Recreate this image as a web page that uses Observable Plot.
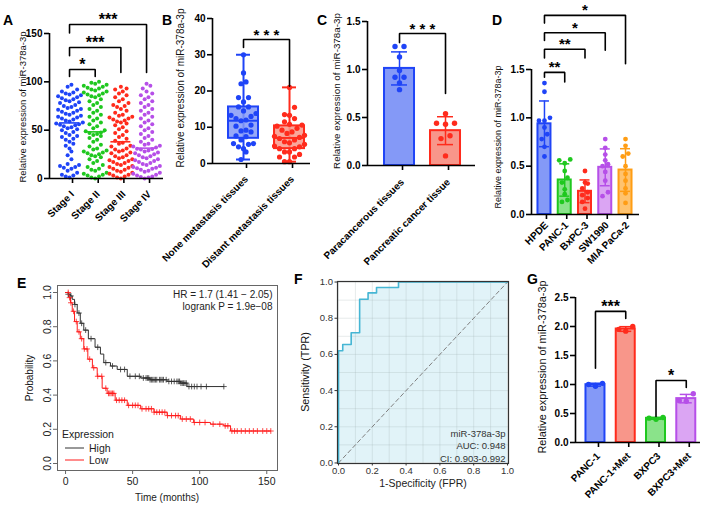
<!DOCTYPE html>
<html><head><meta charset="utf-8">
<script src="https://cdn.jsdelivr.net/npm/d3@7"></script>
<script src="https://cdn.jsdelivr.net/npm/@observablehq/plot@0.6"></script>
<style>
body{margin:0;background:#fff;}
#fig{position:relative;width:709px;height:506px;overflow:hidden;background:#fff;}
</style></head><body><div id="fig"></div>
<script>
// ---------------- DATA ----------------
// A: miR-378a-3p expression by stage
const stagesA = ["Stage I", "Stage II", "Stage III", "Stage IV"];
const stageI = [1,2,3,4,6,8,10,11,12,13,14,15,20,24,28,31,34,36,38,40,41,43,44,45,47,48,50,51,52,53,54,55,55.5,56,57,58,59,60,61,62,63,64,65,66,67,68,69,70,71,72,73,74,75,76,78,79,80,81,82,83,84,85,86,87,88,89,90,92,95,97];
const stageII = [0,1,2,3,4,5,6,8,9,10,12,14,16,18,20,22,23,24,25,26,27,28,29,30,31,33,35,38,40,42,44,45,46,47,47.5,49,50,52,54,56,58,60,62,64,66,68,70,72,74,76,78,80,82,84,85,86,87,88,89,90,91,92,93,94,95,96,97,98,99,100];
const stageIII = [0,1,2,3,4,5,6,7,8,9,10,11,12,13,14,15,16,17,18,19,20,21,22,23,24,26,27,28,29,30,31,33,34,36,37,39,41,43,45,47,49,51,53,55,57,58,59,60,61,62,63,64,65,66,68,70,72,74,75,76,78,80,82,84,86,88,90,92,93,95];
const stageIV = [0,1,1.5,2,3,4,5,6,7,8,9,10,10.5,11,12,13,14,15,16,17,18,19,20,21,22,23,24,25,26,27,28,29,30,30.5,30.8,32,33,34,35,36,38,40,42,44,46,48,50,52,54,56,58,60,62,64,66,68,70,72,74,76,78,80,82,84,86,88,90,93,96,98];
// B: metastasis
const groupsB = ["None metastasis tissues", "Distant metastasis tissues"];
const noneMet = [30,25,22.5,22,18.2,18.2,17,15.6,15.6,14.5,13.8,13.3,13,12.4,12,11.8,10.6,10.3,9.2,9,8.7,7.6,7.4,6.5,5.5,5.5,5.3,4.6,4.1,3.2,1.1];
const distantMet = [21,15.5,13.5,13.3,12.4,11.5,10.8,10.6,10.3,9.7,9.2,8.7,8.3,7.8,7.5,7.2,6.9,6.5,6,5.7,5.3,4.8,4.6,4.1,4.1,3.2,3.2,2.5,1.8,1.8,0.5,0.5];
// C: tissues
const groupsC = ["Paracancerous tissues", "Pancreatic cancer tissue"];
const paraC = [1.24,1.24,1.13,0.99,0.92,0.92,0.86,0.79];
const cancerC = [0.54,0.44,0.44,0.43,0.31,0.28,0.10];
// D: cell lines
const cellsD = ["HPDE", "PANC-1", "BxPC-3", "SW1990", "MIA PaCa-2"];
const hpde = [1.36,1.27,1.00,0.97,0.97,0.90,0.83,0.78,0.70,0.60];
const panc1 = [0.57,0.56,0.53,0.45,0.38,0.33,0.26,0.21,0.15,0.13];
const bxpc3 = [0.45,0.33,0.32,0.27,0.23,0.20,0.17,0.13,0.06];
const sw1990 = [0.78,0.69,0.62,0.56,0.52,0.50,0.44,0.35,0.23,0.19];
const miapaca = [0.78,0.71,0.63,0.60,0.50,0.42,0.35,0.27,0.22,0.12];
// E: Kaplan-Meier
const kmHighTime = [0,2,3.7,5,6.7,8.7,11,13.6,17,22,26,28.5,33.5,38.5,46,56,63,75.7,85.6,90.6,118];
const kmHighSurv = [1.0,0.99,0.98,0.96,0.93,0.88,0.82,0.78,0.73,0.68,0.64,0.59,0.57,0.55,0.51,0.50,0.49,0.48,0.47,0.45,0.45];
const kmLowTime = [0,2.5,3.7,5,6.7,8.7,11,13.6,16.6,20,23.6,27.3,31,37,46,56,66,75.7,85.6,95.5,108,118,123,153];
const kmLowSurv = [1.0,0.97,0.94,0.89,0.83,0.77,0.73,0.67,0.61,0.56,0.51,0.44,0.41,0.37,0.34,0.32,0.30,0.28,0.26,0.24,0.23,0.22,0.19,0.19];
const censorHigh = [2,4,7,10,12,15,19,24,30,35,41,44,48,52,55,58,60,61,62,63,64,65,66,67,68,70,71,72,73,75,77,79,81,83,84,85,86,87,88,89,90,92,94,96,98,101,105,118];
const censorLow = [2,3,4,6,8,10,12,14,16,18,21,24,27,30,32,33,34,35,36,38,40,42,44,47,50,52,54,57,60,62,64,66,68,70,72,74,76,79,82,84,87,90,93,96,100,104,110,115,119,121,124,126,128,131,134,137,140,143,147,150,153];
const kmGroups = ["High", "Low"];
const kmStats = "HR = 1.7 (1.41 \u2212 2.05)\nlogrank P = 1.9e\u221208";
// F: ROC
const rocFpr = [0,0,0.025,0.075,0.125,0.175,0.225,0.355,1];
const rocTpr = [0,0.62,0.655,0.72,0.905,0.94,0.97,1,1];
const chance = [0,1];
const rocStats = "miR-378a-3p\nAUC: 0.948\nCI: 0.903-0.992";
// G: metastasis-induced
const cellsG = ["PANC-1", "PANC-1+Met", "BXPC3", "BXPC3+Met"];
const gPanc = [0.97,1.02,1.00];
const gPancMet = [2.00,1.92,1.95];
const gBx = [0.40,0.42,0.43];
const gBxMet = [0.84,0.71,0.72];
const yTitle = "Relative expression of miR-378a-3p";

// ---------------- STYLE ----------------
const FONT = "'Liberation Sans', Arial, Helvetica, sans-serif";
const C = {
  blue:   {dot:"#1f44f7", fill:"#8499f7", line:"#1f44f7"},
  red:    {dot:"#ff2b1c", fill:"#f8968a", line:"#ff2b1c"},
  green:  {dot:"#1fc81f", fill:"#8ae38a", line:"#1fc81f"},
  purple: {dot:"#b64fe8", fill:"#dba5f3", line:"#b64fe8"},
  orange: {dot:"#ff9d14", fill:"#ffc36e", line:"#ff9d14"}
};
const fig = document.getElementById("fig");
function place(el, left, top) { el.style.position = "absolute"; el.style.left = left + "px"; el.style.top = top + "px"; fig.appendChild(el); }

function swarm(values, bin) {
  const s = values.slice().sort((a, b) => a - b);
  const out = []; let cl = [];
  const flush = () => {
    const n = cl.length;
    const slots = d3.range(n).map(j => j - (n - 1) / 2).sort((a, b) => Math.abs(a) - Math.abs(b) || a - b);
    cl.forEach((v, j) => out.push({v, slot: slots[j]}));
    cl = [];
  };
  for (const v of s) { if (cl.length && v - cl[0] >= bin) flush(); cl.push(v); }
  flush();
  return out;
}
function brackets(sig, fontSize, dy) {
  const pts = sig.flatMap((s, k) => [{k, x: s.a, y: s.la}, {k, x: s.a, y: s.y}, {k, x: s.b, y: s.y}, {k, x: s.b, y: s.lb}]);
  return [
    Plot.line(pts, {x: "x", y: "y", z: "k", stroke: "#000", strokeWidth: 1.6, strokeLinejoin: "miter", curve: "linear"}),
    Plot.text(sig, {x: d => (d.a + d.b) / 2, y: "y", text: "text", fontSize, fontWeight: "bold", dy, lineAnchor: "middle"})
  ];
}
function gpPanel(cfg) {
  const {left, top, width, height, ml, mr, mt, mb, xDomain, yDomain, yTicks, yFormat, labels, marks, pad, ldx} = cfg;
  const unit = (width - ml - mr) / (xDomain[1] - xDomain[0]);
  const svg = Plot.plot({
    width, height, marginLeft: ml, marginRight: mr, marginTop: mt, marginBottom: mb,
    x: {domain: xDomain}, y: {domain: yDomain}, color: {type: "identity"},
    style: {background: "transparent", fontFamily: FONT, fontSize: "10px", fontWeight: "bold", color: "#000", overflow: "visible"},
    marks: [
      ...marks(unit),
      Plot.ruleY([yDomain[0]], {strokeWidth: 1.6}),
      Plot.ruleX([xDomain[0]], {strokeWidth: 1.6}),
      Plot.axisY({ticks: yTicks, tickFormat: yFormat, tickSize: 5, tickPadding: 2, strokeWidth: 1.6, fontSize: 10, fontWeight: "bold", label: null}),
      Plot.axisX({ticks: d3.range(labels.length), tickFormat: i => labels[i], tickRotate: -45, tickSize: 5, tickPadding: pad, dx: ldx, strokeWidth: 1.6, fontSize: 10, fontWeight: "bold", label: null})
    ]
  });
  place(svg, left, top);
}
function barMarks(series, colors, unit, o) {
  const rows = series.map((vals, i) => ({i, mean: d3.mean(vals), sd: d3.deviation(vals), fill: colors[i].fill, line: colors[i].line}));
  const dots = series.flatMap((vals, i) => swarm(vals, o.bin).map(d => ({x: i + d.slot * o.step / unit, v: d.v, c: colors[i].dot})));
  const hb = o.halfBar / unit, hc = o.cap / unit;
  return [
    Plot.rect(rows, {x1: d => d.i - hb, x2: d => d.i + hb, y1: 0, y2: "mean", fill: "fill", stroke: "line", strokeWidth: 2}),
    Plot.ruleX(rows, {x: "i", y1: d => d.mean - d.sd, y2: d => d.mean + d.sd, stroke: "line", strokeWidth: 1.5}),
    Plot.ruleY(rows, {y: d => d.mean + d.sd, x1: d => d.i - hc, x2: d => d.i + hc, stroke: "line", strokeWidth: 1.5}),
    Plot.ruleY(rows, {y: d => d.mean - d.sd, x1: d => d.i - hc, x2: d => d.i + hc, stroke: "line", strokeWidth: 1.5}),
    Plot.dot(dots, {x: "x", y: "v", r: o.r, fill: "c"})
  ];
}

// ---------------- PANEL A ----------------
gpPanel({left: 0, top: 0, width: 170, height: 250, ml: 49, mr: 7, mt: 33, mb: 72, pad: 9, ldx: 3,
  xDomain: [-0.78, 3.66], yDomain: [0, 150], yTicks: [0, 50, 100, 150], yFormat: "d", labels: stagesA,
  marks: unit => {
    const series = [stageI, stageII, stageIII, stageIV];
    const cols = [C.blue, C.green, C.red, C.purple];
    const dots = series.flatMap((vals, i) => swarm(vals, 7).map(d => ({x: i + d.slot * 3.8 / unit, v: d.v, c: cols[i].dot})));
    const meds = series.map((vals, i) => ({i, m: d3.median(vals), c: cols[i].dot}));
    const sig = [
      {a: 0, b: 1, y: 112.7, la: 105.5, lb: 105.5, text: "*"},
      {a: 0, b: 2, y: 135.5, la: 127, lb: 109.6, text: "***"},
      {a: 0, b: 3, y: 159.3, la: 150.5, lb: 109.6, text: "***"}
    ];
    return [
      Plot.dot(dots, {x: "x", y: "v", r: 2, fill: "c"}),
      Plot.ruleY(meds, {y: "m", x1: d => d.i - 10 / unit, x2: d => d.i + 10 / unit, stroke: "c", strokeWidth: 1.6}),
      ...brackets(sig, 16, -5)
    ];
  }});

// ---------------- PANEL B ----------------
gpPanel({left: 170, top: 0, width: 170, height: 250, ml: 42, mr: 30, mt: 18, mb: 87, pad: 9, ldx: 3,
  xDomain: [-0.674, 1.456], yDomain: [0, 40], yTicks: [0, 10, 20, 30, 40], yFormat: "d", labels: groupsB,
  marks: unit => {
    const series = [noneMet, distantMet];
    const cols = [C.blue, C.red];
    const rows = series.map((vals, i) => {
      const s = vals.slice().sort(d3.ascending);
      return {i, q1: d3.quantile(s, 0.25), q2: d3.quantile(s, 0.5), q3: d3.quantile(s, 0.75), lo: s[0], hi: s[s.length - 1], fill: cols[i].fill, line: cols[i].line};
    });
    const dots = series.flatMap((vals, i) => swarm(vals, 2.4).map(d => ({x: i + d.slot * 5 / unit, v: d.v, c: cols[i].dot})));
    const hb = 15 / unit, hc = 7 / unit;
    const sig = [{a: 0, b: 1, y: 34.2, la: 32, lb: 21.3, text: "* * *"}];
    return [
      Plot.ruleX(rows, {x: "i", y1: "lo", y2: "hi", stroke: "line", strokeWidth: 2}),
      Plot.ruleY(rows, {y: "lo", x1: d => d.i - hc, x2: d => d.i + hc, stroke: "line", strokeWidth: 2}),
      Plot.ruleY(rows, {y: "hi", x1: d => d.i - hc, x2: d => d.i + hc, stroke: "line", strokeWidth: 2}),
      Plot.rect(rows, {x1: d => d.i - hb, x2: d => d.i + hb, y1: "q1", y2: "q3", fill: "fill", fillOpacity: 0.85, stroke: "line", strokeWidth: 2}),
      Plot.ruleY(rows, {y: "q2", x1: d => d.i - hb, x2: d => d.i + hb, stroke: "line", strokeWidth: 2}),
      Plot.dot(dots, {x: "x", y: "v", r: 2.6, fill: "c"}),
      ...brackets(sig, 15, -4)
    ];
  }});

// ---------------- PANEL C ----------------
gpPanel({left: 330, top: 0, width: 160, height: 250, ml: 37, mr: 15, mt: 21, mb: 85, pad: 10, ldx: 3,
  xDomain: [-0.696, 1.652], yDomain: [0, 1.5], yTicks: [0, 0.5, 1, 1.5], yFormat: ".1f", labels: groupsC,
  marks: unit => [
    ...barMarks([paraC, cancerC], [C.blue, C.red], unit, {bin: 0.05, step: 9, halfBar: 15, cap: 8, r: 2.7}),
    ...brackets([{a: 0, b: 1, y: 1.375, la: 1.28, lb: 0.75, text: "* * *"}], 15, -4)
  ]});

// ---------------- PANEL D ----------------
gpPanel({left: 500, top: 0, width: 209, height: 250, ml: 31, mr: 70, mt: 69, mb: 36, pad: 4, ldx: 2,
  xDomain: [-0.64, 4.69], yDomain: [0, 1.5], yTicks: [0, 0.5, 1, 1.5], yFormat: ".1f", labels: cellsD,
  marks: unit => [
    ...barMarks([hpde, panc1, bxpc3, sw1990, miapaca], [C.blue, C.green, C.red, C.purple, C.orange], unit, {bin: 0.05, step: 5.5, halfBar: 6.5, cap: 5, r: 2.4}),
    ...brackets([
      {a: 0, b: 1, y: 1.47, la: 1.42, lb: 1.37, text: "**"},
      {a: 0, b: 2, y: 1.71, la: 1.62, lb: 1.62, text: "**"},
      {a: 0, b: 3, y: 1.88, la: 1.80, lb: 1.70, text: "*"},
      {a: 0, b: 4, y: 2.06, la: 1.98, lb: 1.56, text: "*"}
    ], 15, -5)
  ]});

// ---------------- PANEL G ----------------
gpPanel({left: 530, top: 250, width: 179, height: 256, ml: 45, mr: 9, mt: 47, mb: 64, pad: 7, ldx: 3,
  xDomain: [-0.66, 3.47], yDomain: [0, 2.5], yTicks: [0, 0.5, 1, 1.5, 2, 2.5], yFormat: ".1f", labels: cellsG,
  marks: unit => [
    ...barMarks([gPanc, gPancMet, gBx, gBxMet], [C.blue, C.red, C.green, C.purple], unit, {bin: 0.2, step: 7, halfBar: 9.5, cap: 6, r: 2.7}),
    ...brackets([
      {a: 0, b: 1, y: 2.26, la: 1.28, lb: 2.14, text: "***"},
      {a: 2, b: 3, y: 1.07, la: 0.45, lb: 0.95, text: "*"}
    ], 16, -5)
  ]});

// ---------------- PANEL E ----------------
{
  const stepAt = (times, surv, t) => surv[Math.max(0, d3.bisectRight(times, t) - 1)];
  const high = kmHighTime.map((t, k) => ({t, s: kmHighSurv[k]}));
  const low = kmLowTime.map((t, k) => ({t, s: kmLowSurv[k]}));
  const cHigh = censorHigh.map(t => ({t, s: stepAt(kmHighTime, kmHighSurv, t)}));
  const cLow = censorLow.map(t => ({t, s: stepAt(kmLowTime, kmLowSurv, t)}));
  const svg = Plot.plot({
    width: 290, height: 256, marginLeft: 57, marginTop: 35, marginRight: 13, marginBottom: 36,
    x: {domain: [-6, 158]}, y: {domain: [-0.041, 1.041]},
    style: {background: "transparent", fontFamily: FONT, fontSize: "10px", color: "#222", overflow: "visible"},
    marks: [
      Plot.line(high, {x: "t", y: "s", curve: "step-after", stroke: "#333", strokeWidth: 1}),
      Plot.line(low, {x: "t", y: "s", curve: "step-after", stroke: "#ff1a1a", strokeWidth: 1}),
      Plot.dot(cHigh, {x: "t", y: "s", symbol: "plus", r: 2, stroke: "#333", strokeWidth: 0.8}),
      Plot.dot(cLow, {x: "t", y: "s", symbol: "plus", r: 2, stroke: "#ff1a1a", strokeWidth: 0.8}),
      Plot.frame({stroke: "#666"}),
      Plot.axisX({ticks: [0, 50, 100, 150], tickSize: 4, tickPadding: 3, fontSize: 10.5, label: null, stroke: "#666"}),
      Plot.axisY({ticks: [0, 0.2, 0.4, 0.6, 0.8, 1], tickFormat: ".1f", tickRotate: -90, tickSize: 4, tickPadding: 3, fontSize: 10.5, label: null, stroke: "#666"}),
      Plot.text([kmStats], {frameAnchor: "top-right", textAnchor: "end", lineAnchor: "top", dx: -5, dy: 4, fontSize: 10, lineHeight: 1.2})
    ]
  });
  place(svg, 0, 250);
}

// ---------------- PANEL F ----------------
{
  const roc = rocFpr.map((f, k) => ({f, t: rocTpr[k]}));
  const grid = d3.range(0, 11).map(k => k / 10);
  const svg = Plot.plot({
    width: 225, height: 256, marginLeft: 47, marginTop: 31, marginRight: 7, marginBottom: 43,
    x: {domain: [-0.006, 1.006]}, y: {domain: [-0.003, 1.003]},
    style: {background: "transparent", fontFamily: FONT, fontSize: "10px", color: "#333", overflow: "visible"},
    marks: [
      Plot.areaY(roc, {x: "f", y: "t", curve: "step-after", fill: "#e1f3f8"}),
      Plot.gridX(grid, {stroke: "#9aa", strokeOpacity: 0.3, strokeWidth: 0.8}),
      Plot.gridY(grid, {stroke: "#9aa", strokeOpacity: 0.3, strokeWidth: 0.8}),
      Plot.line(chance, {x: d => d, y: d => d, stroke: "#808080", strokeDasharray: "4,3", strokeWidth: 1}),
      Plot.line(roc, {x: "f", y: "t", curve: "step-after", stroke: "#46b6d4", strokeWidth: 1.6}),
      Plot.frame({stroke: "#333", strokeWidth: 1.2}),
      Plot.axisX({ticks: [0, 0.2, 0.4, 0.6, 0.8, 1], tickFormat: ".1f", tickSize: 2.5, tickPadding: 1, fontSize: 9.5, label: null}),
      Plot.axisY({ticks: [0, 0.2, 0.4, 0.6, 0.8, 1], tickFormat: ".1f", tickSize: 2.5, tickPadding: 2, fontSize: 9.5, label: null}),
      Plot.text([rocStats], {frameAnchor: "bottom-right", textAnchor: "end", lineAnchor: "bottom", dx: -3, dy: -2, fontSize: 9.5, lineHeight: 1.3, fill: "#333"})
    ]
  });
  place(svg, 290, 250);
}

// ---------------- OVERLAY TEXT ----------------
{
  const ov = d3.create("svg").attr("width", 709).attr("height", 506)
    .style("position", "absolute").style("left", "0px").style("top", "0px").style("pointer-events", "none")
    .attr("font-family", FONT);
  const letters = [["A", 3, 25], ["B", 162, 25], ["C", 317, 25], ["D", 492, 25], ["E", 17, 288], ["F", 294, 284], ["G", 527, 284]];
  for (const [t, x, y] of letters) ov.append("text").attr("x", x).attr("y", y).attr("font-size", 14).attr("font-weight", "bold").text(t);
  const vt = [[yTitle, 22, 107, 9.5], [yTitle, 180, 88, 10], [yTitle, 336, 91, 9.8], [yTitle, 498, 137, 9], [yTitle, 542, 367, 10.9],
              ["Probability", 29, 378, 10], ["Sensitivity (TPR)", 305, 372, 10.7]];
  for (const [t, x, y, fs] of vt) ov.append("text").attr("transform", `translate(${x},${y}) rotate(-90)`)
    .attr("text-anchor", "middle").attr("dominant-baseline", "central").attr("font-size", fs).attr("fill", "#111").text(t);
  const ht = [["Time (months)", 167, 497, 10], ["1-Specificity (FPR)", 423, 483, 10.5]];
  for (const [t, x, y, fs] of ht) ov.append("text").attr("x", x).attr("y", y).attr("text-anchor", "middle")
    .attr("dominant-baseline", "central").attr("font-size", fs).attr("fill", "#222").text(t);
  // E legend
  ov.append("text").attr("x", 62).attr("y", 434).attr("dominant-baseline", "central").attr("font-size", 10.5).attr("fill", "#222").text("Expression");
  const legCols = ["#333", "#ff1a1a"];
  kmGroups.forEach((g, k) => {
    const y = 448 + k * 12;
    ov.append("line").attr("x1", 65).attr("x2", 84).attr("y1", y).attr("y2", y).attr("stroke", legCols[k]).attr("stroke-width", 1);
    ov.append("text").attr("x", 89).attr("y", y).attr("dominant-baseline", "central").attr("font-size", 10.5).attr("fill", "#222").text(g);
  });
  fig.appendChild(ov.node());
}
</script></body></html>
